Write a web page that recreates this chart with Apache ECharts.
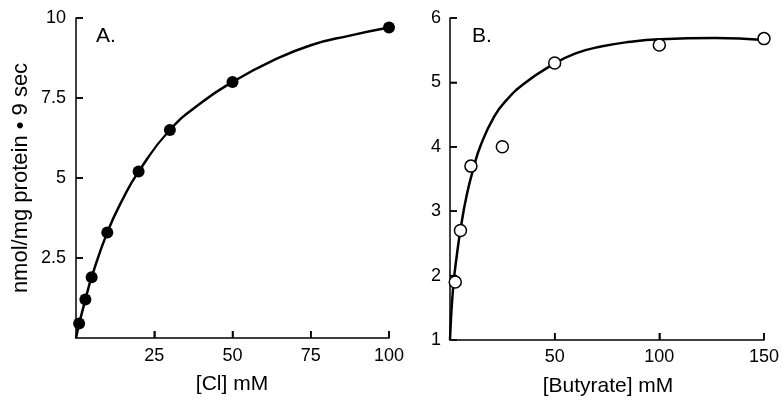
<!DOCTYPE html>
<html>
<head>
<meta charset="utf-8">
<script src="https://cdn.jsdelivr.net/npm/echarts@6/dist/echarts.min.js"></script>
<style>
  html, body { margin: 0; padding: 0; background: #fff; }
  #chart { width: 782px; height: 406px; }
</style>
</head>
<body>
<div id="chart"></div>
<script>
// Panel A: Cl
var clConc = [1, 3, 5, 10, 20, 30, 50, 100]
var clRate = [0.45, 1.2, 1.9, 3.3, 5.2, 6.5, 8.0, 9.7]
// fitted curve
var clCurveX = [0, 1, 3, 5, 10, 15, 20, 30, 40, 50, 62.5, 75, 87.5, 100]
var clCurveY = [0, 0.44, 1.2, 1.9, 3.3, 4.35, 5.2, 6.5, 7.35, 8.0, 8.65, 9.15, 9.45, 9.7]
var clTicksX = [25, 50, 75, 100]
var clTicksY = [2.5, 5, 7.5, 10]

// Panel B: butyrate
var butConc = [2.5, 5, 10, 25, 50, 100, 150]
var butRate = [1.9, 2.7, 3.7, 4.0, 5.3, 5.58, 5.68]
var butCurveX = [0, 0.5, 1, 1.8, 3, 5, 8, 11.6, 14.5, 21.1, 27.1, 35.8, 47.7, 60, 72.7, 86, 100, 126.6, 150]
var butCurveY = [1, 1.35, 1.6, 1.92, 2.25, 2.71, 3.25, 3.71, 4.01, 4.47, 4.73, 4.99, 5.25, 5.45, 5.56, 5.63, 5.67, 5.69, 5.66]
var butTicksX = [50, 100, 150]
var butTicksY = [2, 3, 4, 5, 6]

function pairs (xs, ys) {
  return xs.map(function (x, i) { return [x, ys[i]] })
}

var font = "'Liberation Sans', Arial, sans-serif"
var black = '#000'
var tickLen = 7

function axisBase (extra) {
  var a = {
    type: 'value',
    splitLine: { show: false },
    axisLine: { show: true, onZero: false, lineStyle: { color: black, width: 1.5 } },
    axisTick: { show: true, inside: true, length: tickLen, lineStyle: { color: black, width: 1.5 } },
    axisLabel: { color: black, fontSize: 18, fontFamily: font }
  }
  for (var k in extra) a[k] = extra[k]
  return a
}

function label (text, x, y, size, rot) {
  return {
    type: 'text', x: x, y: y, rotation: rot || 0,
    style: {
      text: text, fill: black, fontSize: size, fontFamily: font,
      align: 'center', verticalAlign: 'middle', textAlign: 'center', textVerticalAlign: 'middle'
    }
  }
}

// inward tick marks, placed through the axis scales
function tickSeries (gridIdx, values, dir, xMin, yMin) {
  return {
    type: 'custom', xAxisIndex: gridIdx, yAxisIndex: gridIdx,
    silent: true, clip: false, z: 5,
    data: values.map(function (v) { return [v] }),
    renderItem: function (params, api) {
      var v = api.value(0)
      var p, q
      if (dir === 'x') {
        p = api.coord([v, yMin])
        q = [p[0], p[1] - tickLen]
      } else {
        p = api.coord([xMin, v])
        q = [p[0] + tickLen, p[1]]
      }
      return {
        type: 'line',
        shape: { x1: p[0], y1: p[1], x2: q[0], y2: q[1] },
        style: { stroke: black, lineWidth: 1.5 }
      }
    }
  }
}

var myChart = echarts.init(document.getElementById('chart'))
myChart.setOption({
  animation: false,
  graphic: [
    label('A.', 106, 36, 21),
    label('B.', 482, 36, 21),
    label('[Cl] mM', 232, 384, 21),
    label('[Butyrate] mM', 608, 386, 21),
    label('nmol/mg protein • 9 sec', 21, 178, 22, Math.PI / 2)
  ],
  grid: [
    { left: 76, top: 18, width: 313, height: 320 },
    { left: 450, top: 18, width: 316, height: 322 }
  ],
  xAxis: [
    axisBase({
      gridIndex: 0, min: 0, max: 100, interval: 25,
      axisLabel: { color: black, fontSize: 18, fontFamily: font, margin: 9, showMinLabel: false }
    }),
    axisBase({
      gridIndex: 1, min: 0, max: 150, interval: 50,
      axisLabel: { color: black, fontSize: 18, fontFamily: font, margin: 8, showMinLabel: false }
    })
  ],
  yAxis: [
    axisBase({
      gridIndex: 0, min: 0, max: 10, interval: 2.5,
      axisLabel: { color: black, fontSize: 18, fontFamily: font, margin: 10, showMinLabel: false }
    }),
    axisBase({
      gridIndex: 1, min: 1, max: 6, interval: 1,
      axisLabel: { color: black, fontSize: 18, fontFamily: font, margin: 9 }
    })
  ],
  series: [
    {
      type: 'line', xAxisIndex: 0, yAxisIndex: 0,
      data: pairs(clCurveX, clCurveY),
      smooth: 0.5, showSymbol: false,
      lineStyle: { color: black, width: 2.5 }
    },
    {
      type: 'scatter', xAxisIndex: 0, yAxisIndex: 0,
      data: pairs(clConc, clRate),
      symbolSize: 12, z: 4,
      itemStyle: { color: black, opacity: 1 }
    },
    {
      type: 'line', xAxisIndex: 1, yAxisIndex: 1,
      data: pairs(butCurveX, butCurveY),
      smooth: 0.5, showSymbol: false,
      lineStyle: { color: black, width: 2.5 }
    },
    {
      type: 'scatter', xAxisIndex: 1, yAxisIndex: 1,
      data: pairs(butConc, butRate),
      symbolSize: 12, z: 4,
      itemStyle: { color: '#fff', borderColor: black, borderWidth: 1.5, opacity: 1 }
    },
    tickSeries(0, clTicksX, 'x', 0, 0),
    tickSeries(0, clTicksY, 'y', 0, 0),
    tickSeries(1, butTicksX, 'x', 0, 1),
    tickSeries(1, butTicksY, 'y', 0, 1)
  ]
})
</script>
</body>
</html>
